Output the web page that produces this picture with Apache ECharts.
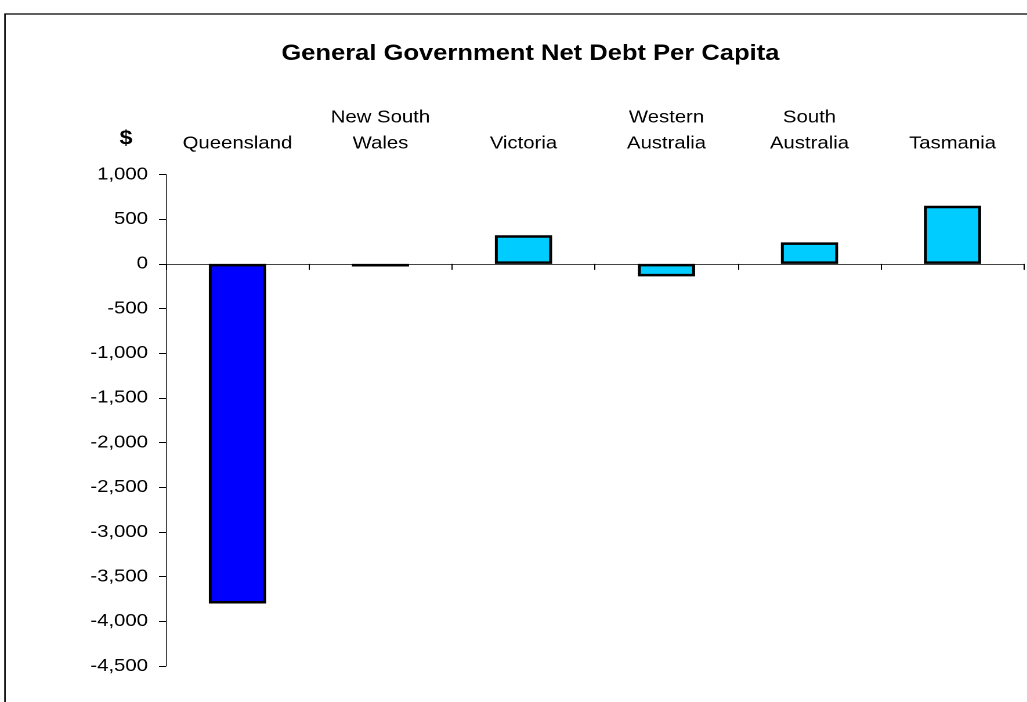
<!DOCTYPE html>
<html>
<head>
<meta charset="utf-8">
<title>General Government Net Debt Per Capita</title>
<script src="https://cdn.jsdelivr.net/npm/echarts@6/dist/echarts.min.js"></script>
<style>
  html, body { margin: 0; padding: 0; background: #ffffff; overflow: hidden; }
  /* The chart is laid out on a narrower canvas and widened, giving the wide Arial look */
  #chart { width: 885px; height: 702px; transform: scaleX(1.1605); transform-origin: 0 0; }
</style>
</head>
<body>
<div id="chart"></div>
<script>
// Net debt per capita by state ($)
const states = ['Queensland', 'New South\nWales', 'Victoria', 'Western\nAustralia', 'South\nAustralia', 'Tasmania'];
const netDebt = [-3800, -30, 320, -140, 240, 650];
const yTicks = { min: -4500, max: 1000, step: 500 };

const FONT = '"Liberation Sans", Arial, sans-serif';
const HIGHLIGHT = '#0000FF';
const BASE = '#00CCFF';

const chart = echarts.init(document.getElementById('chart'), null, { devicePixelRatio: 2 });

chart.setOption({
  animation: false,
  backgroundColor: '#ffffff',
  title: {
    text: 'General Government Net Debt Per Capita',
    left: 452,
    top: 38,
    textAlign: 'center',
    textStyle: { fontFamily: FONT, fontSize: 22, fontWeight: 'bold', color: '#000' }
  },
  graphic: [
    {
      type: 'rect',
      silent: true,
      shape: { x: 4.3, y: 14, width: 2000, height: 2000 },
      style: { fill: 'none', stroke: '#000', lineWidth: 1.3 }
    },
    {
      type: 'text',
      silent: true,
      style: {
        text: '$', x: 108.6, y: 139,
        textAlign: 'center', textVerticalAlign: 'middle',
        font: 'bold 20px ' + FONT, fill: '#000'
      }
    }
  ],
  grid: { left: 143, right: 2.6, top: 174.5, bottom: 36, containLabel: false },
  xAxis: [
    {
      type: 'category',
      data: states,
      boundaryGap: true,
      axisLine: { show: true, onZero: true, lineStyle: { color: '#444', width: 1 } },
      axisTick: { show: true, interval: 0, alignWithLabel: false, length: 6, lineStyle: { color: '#000', width: 1 } },
      axisLabel: { show: false },
      splitLine: { show: false }
    },
    {
      type: 'category',
      data: states,
      position: 'top',
      boundaryGap: true,
      axisLine: { show: false, onZero: false },
      axisTick: { show: false },
      axisLabel: {
        show: true, interval: 0, margin: 18,
        fontFamily: FONT, fontSize: 17.5, lineHeight: 26, color: '#000', align: 'center'
      },
      splitLine: { show: false }
    }
  ],
  yAxis: {
    type: 'value',
    min: yTicks.min,
    max: yTicks.max,
    interval: yTicks.step,
    axisLine: { show: true, lineStyle: { color: '#444', width: 1 } },
    axisTick: { show: true, length: 6, lineStyle: { color: '#000', width: 1 } },
    axisLabel: {
      margin: 15.5,
      fontFamily: FONT, fontSize: 17.5, color: '#000',
      formatter: v => v.toLocaleString('en-US')
    },
    splitLine: { show: false }
  },
  series: [
    {
      type: 'bar',
      xAxisIndex: 0,
      barWidth: '40%',
      data: netDebt.map((v, i) => ({
        value: v,
        itemStyle: { color: i === 0 ? HIGHLIGHT : BASE }
      })),
      itemStyle: { borderColor: '#000', borderWidth: 2.5 }
    }
  ]
});
</script>
</body>
</html>
